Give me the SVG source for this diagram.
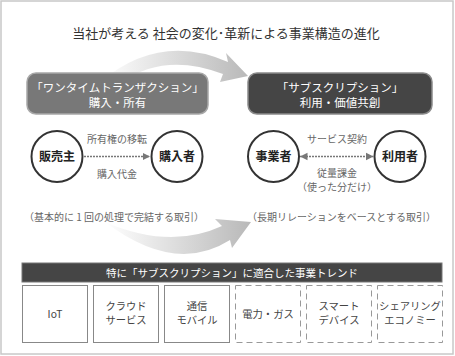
<svg xmlns="http://www.w3.org/2000/svg" width="455" height="356" viewBox="0 0 455 356">
<style>
text{font-family:"Noto Sans CJK JP","Noto Sans",sans-serif;text-anchor:middle}
.title{font-size:13px;fill:#333}
.boxt{font-size:11.5px;fill:#fff}
.circ{fill:#fff;stroke:#333;stroke-width:2}
.ct{font-size:12px;font-weight:bold;fill:#222}
.lab{font-size:10px;fill:#666}
.dot{stroke:#777;stroke-width:1.5;stroke-dasharray:2 1;fill:none}
.tb{fill:#fff;stroke:#888;stroke-width:1}
.td{fill:#fff;stroke:#999;stroke-width:1;stroke-dasharray:6 4}
.tt{font-size:10.3px;fill:#444}
</style>
<defs>
<marker id="ah" viewBox="0 0 10 10" refX="10" refY="5" markerWidth="5" markerHeight="5.5" orient="auto-start-reverse" markerUnits="strokeWidth">
<path d="M0,0 L10,5 L0,10 Z" fill="#777"/>
</marker>
<linearGradient id="g1" x1="100" y1="0" x2="250" y2="0" gradientUnits="userSpaceOnUse">
<stop offset="0" stop-color="#fff"/>
<stop offset="1" stop-color="#b8b8b8"/>
</linearGradient>
<linearGradient id="g2" x1="105" y1="0" x2="252" y2="0" gradientUnits="userSpaceOnUse">
<stop offset="0" stop-color="#fff"/>
<stop offset="1" stop-color="#b8b8b8"/>
</linearGradient>
</defs>
<rect x="1" y="1" width="452" height="353" fill="#fff" stroke="#c8c8c8" stroke-width="1.5"/>
<text class="title" x="226" y="38">当社が考える 社会の変化･革新による事業構造の進化</text>
<g id="bigarrows">
<path d="M100,82 Q160,32 228,62 L226,53 L248,76 L220,82 L223,74 Q165,52 122,82 Z" fill="url(#g1)"/>
<path d="M105,222 Q170,250 222,226 L215,219 L251,222 L232,248 L230,240 Q175,275 105,222 Z" fill="url(#g2)"/>
</g>
<g id="onetime">
<rect x="27" y="73" width="181" height="41" rx="9" fill="#787878" stroke="#a8a8a8" stroke-width="1.5"/>
<text class="boxt" x="117.5" y="92">「ワンタイムトランザクション」</text>
<text class="boxt" x="117.5" y="107">購入・所有</text>
</g>
<g id="subscription">
<rect x="248" y="73" width="184" height="41" rx="9" fill="#454545" stroke="#8a8a8a" stroke-width="1.5"/>
<text class="boxt" x="340" y="92">「サブスクリプション」</text>
<text class="boxt" x="340" y="107">利用・価値共創</text>
</g>
<g id="seller">
<circle class="circ" cx="57" cy="156.5" r="25.5"/>
<text class="ct" x="57" y="160.5">販売主</text>
</g>
<g id="buyer">
<circle class="circ" cx="177" cy="156.5" r="25.5"/>
<text class="ct" x="177" y="160.5">購入者</text>
</g>
<g id="provider">
<circle class="circ" cx="273.5" cy="156.5" r="25.5"/>
<text class="ct" x="273.5" y="160.5">事業者</text>
</g>
<g id="user">
<circle class="circ" cx="400" cy="156.5" r="25.5"/>
<text class="ct" x="400" y="160.5">利用者</text>
</g>
<g id="connectors">
<line class="dot" x1="84" y1="156.5" x2="150" y2="156.5" marker-end="url(#ah)"/>
<line class="dot" x1="300" y1="156.5" x2="373.5" y2="156.5" marker-start="url(#ah)" marker-end="url(#ah)"/>
</g>
<g id="labels">
<text class="lab" x="117" y="143">所有権の移転</text>
<text class="lab" x="117" y="178">購入代金</text>
<text class="lab" x="337" y="143">サービス契約</text>
<text class="lab" x="337" y="177">従量課金</text>
<text class="lab" x="337" y="191">（使った分だけ）</text>
<text class="lab" x="114" y="221">（基本的に 1 回の処理で完結する取引）</text>
<text class="lab" x="341.5" y="221">（長期リレーションをベースとする取引）</text>
</g>
<g id="banner">
<rect x="22" y="263" width="420" height="19" fill="#454545" stroke="#777" stroke-width="1"/>
<text x="232" y="277" style="font-size:10.5px;fill:#fff">特に「サブスクリプション」に適合した事業トレンド</text>
</g>
<g id="t1"><rect class="tb" x="22.5" y="285.5" width="65" height="57"/><text class="tt" x="55" y="318">IoT</text></g>
<g id="t2"><rect class="tb" x="93.5" y="285.5" width="65" height="57"/><text class="tt" x="126" y="310">クラウド</text><text class="tt" x="126" y="324">サービス</text></g>
<g id="t3"><rect class="tb" x="164.5" y="285.5" width="65" height="57"/><text class="tt" x="197" y="310">通信</text><text class="tt" x="197" y="324">モバイル</text></g>
<g id="t4"><rect class="td" x="235.5" y="285.5" width="65" height="57"/><text class="tt" x="268" y="318">電力・ガス</text></g>
<g id="t5"><rect class="td" x="306.5" y="285.5" width="65" height="57"/><text class="tt" x="339" y="310">スマート</text><text class="tt" x="339" y="324">デバイス</text></g>
<g id="t6"><rect class="td" x="377.5" y="285.5" width="65" height="57"/><text class="tt" x="410" y="310">シェアリング</text><text class="tt" x="410" y="324">エコノミー</text></g>
</svg>
